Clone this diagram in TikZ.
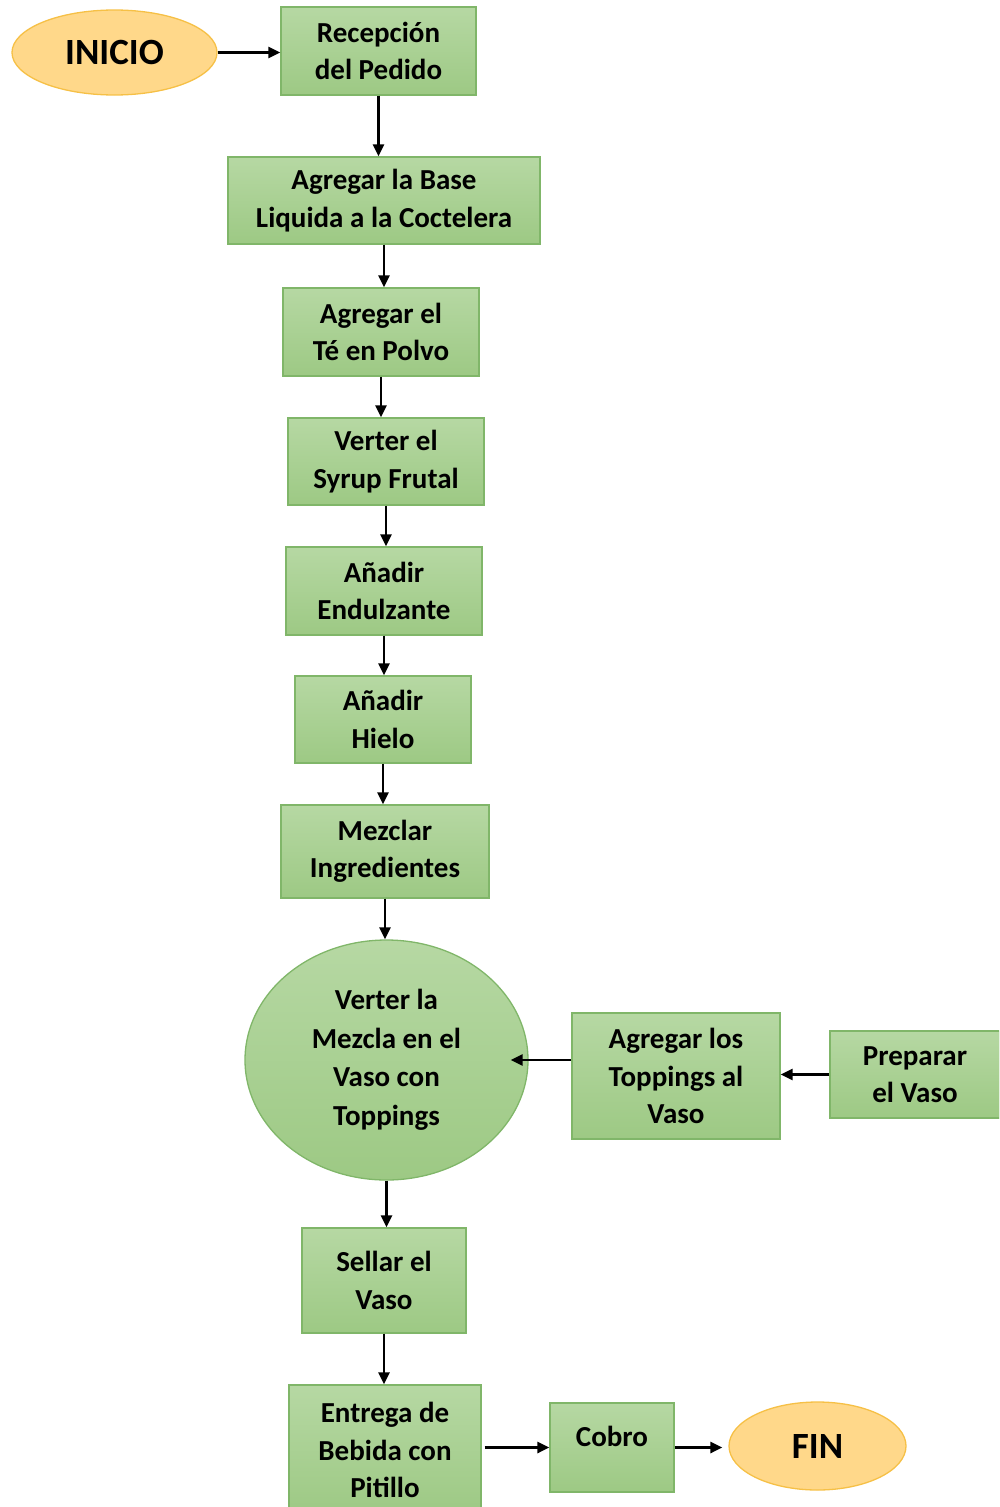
\documentclass[tikz,border=0pt]{standalone}
\usepackage{fontspec}
\setmainfont{Carlito}
\usetikzlibrary{shapes.geometric,arrows.meta}
\definecolor{gtop}{RGB}{182,216,163}
\definecolor{gbot}{RGB}{157,201,132}
\definecolor{gline}{RGB}{128,182,105}
\definecolor{ofill}{RGB}{255,216,138}
\definecolor{oline}{RGB}{246,192,70}
\tikzset{
  stepbox/.style={rectangle, top color=gtop, bottom color=gbot, draw=gline, line width=1.3pt,
    inner sep=0pt, align=center, font=\bfseries\fontsize{29}{37.5}\selectfont},
  oval/.style={ellipse, fill=ofill, draw=oline, line width=1.3pt, inner sep=0pt,
    font=\bfseries\fontsize{37}{40}\selectfont},
  gov/.style={ellipse, top color=gtop, bottom color=gbot, draw=gline, line width=1.3pt,
    inner sep=0pt, align=center, font=\bfseries\fontsize{29}{38.5}\selectfont},
  arr/.style={-{Triangle[length=12pt,width=11pt]}, line width=2.8pt, black}
}
\begin{document}
\begin{tikzpicture}[x=1pt,y=-1pt]
\useasboundingbox (0,0) rectangle (999,1507);
\clip (0,0) rectangle (999,1507);
\node[oval, minimum width=205pt, minimum height=85pt] (ini) at (114.5,52.5) {INICIO};
\node[stepbox, minimum width=195pt, minimum height=88pt] (rec) at (378.5,51) {Recepción\\del Pedido};
\node[stepbox, minimum width=312pt, minimum height=87pt] (base) at (384,200.5) {Agregar la Base\\Liquida a la Coctelera};
\node[stepbox, minimum width=196pt, minimum height=88pt] (te) at (381,332) {Agregar el\\Té en Polvo};
\node[stepbox, minimum width=196pt, minimum height=87pt] (syr) at (386,461.5) {Verter el\\Syrup Frutal};
\node[stepbox, minimum width=196pt, minimum height=88pt] (endu) at (384,591) {Añadir\\Endulzante};
\node[stepbox, minimum width=176pt, minimum height=87pt] (hie) at (383,719.5) {Añadir\\Hielo};
\node[stepbox, minimum width=208pt, minimum height=93pt] (mez) at (385,851.5) {Mezclar\\Ingredientes};
\node[gov, minimum width=283pt, minimum height=240pt] (ell) at (386.5,1060) {Verter la\\Mezcla en el\\Vaso con\\Toppings};
\node[stepbox, minimum width=208pt, minimum height=126pt] (topp) at (676,1076) {Agregar los\\Toppings al\\Vaso};
\node[stepbox, minimum width=170pt, minimum height=87pt] (prep) at (915,1074.5) {Preparar\\el Vaso};
\node[stepbox, minimum width=164pt, minimum height=105pt] (sel) at (384,1280.5) {Sellar el\\Vaso};
\node[stepbox, minimum width=192pt, minimum height=130pt] (ent) at (385,1450) {Entrega de\\Bebida con\\Pitillo};
\node[stepbox, minimum width=124pt, minimum height=89pt, text depth=22pt] (cob) at (612,1447.5) {Cobro};
\node[oval, minimum width=177pt, minimum height=88pt] (fin) at (817.5,1446) {FIN};
\draw[arr] (ini.east) -- (ini.east -| rec.west);
\draw[arr] (rec.south) -- (rec.south |- base.north);
\draw[arr] (base.south) -- (base.south |- te.north);
\draw[arr] (te.south) -- (te.south |- syr.north);
\draw[arr] (syr.south) -- (syr.south |- endu.north);
\draw[arr] (endu.south) -- (endu.south |- hie.north);
\draw[arr] (hie.south) -- (hie.south |- mez.north);
\draw[arr] (mez.south) -- (mez.south |- ell.north);
\draw[arr, shorten >=-18pt] (ell.east -| topp.west) -- (ell.east);
\draw[arr] (prep.west) -- (prep.west -| topp.east);
\draw[arr] (ell.south) -- (ell.south |- sel.north);
\draw[arr] (sel.south) -- (sel.south |- ent.north);
\draw[arr, shorten <=3pt] (cob.west -| ent.east) -- (cob.west);
\draw[arr, shorten >=6pt] (cob.east) -- (cob.east -| fin.west);
\end{tikzpicture}
\end{document}
